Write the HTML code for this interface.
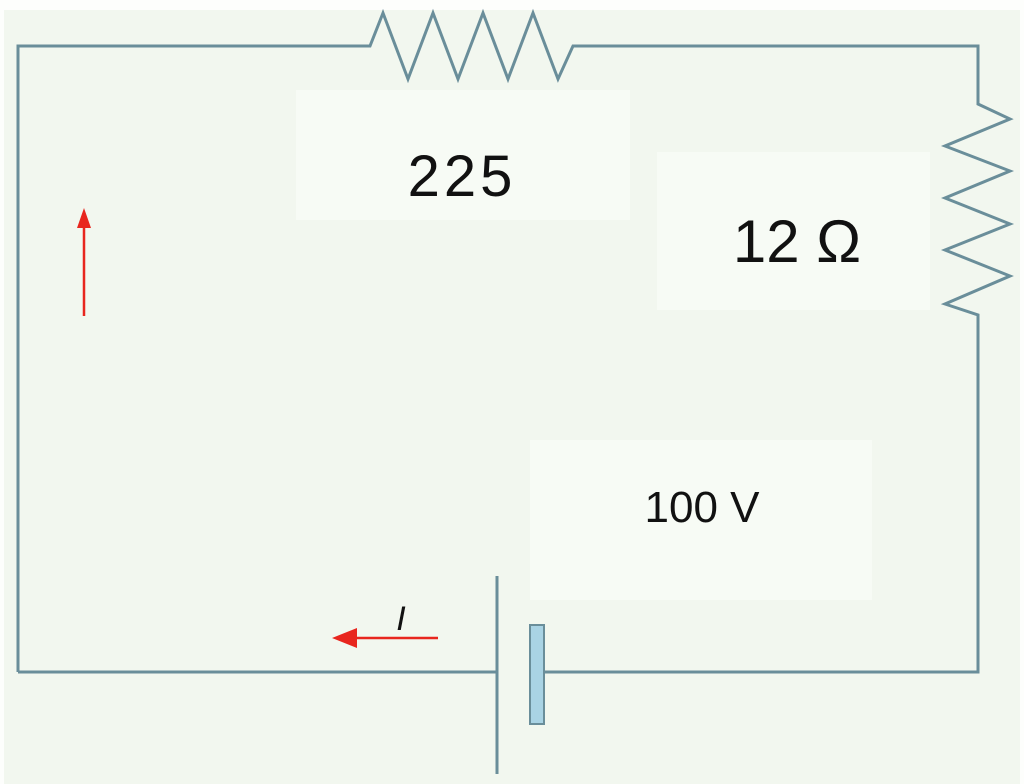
<!DOCTYPE html>
<html><head><style>
html,body{margin:0;padding:0;background:#fff;}
</style></head><body>
<svg width="1024" height="784" xmlns="http://www.w3.org/2000/svg" style="display:block">
<rect x="0" y="0" width="1024" height="784" fill="#fdfefc"/>
<rect x="4" y="10" width="1016" height="774" fill="#f2f7ef"/>
<rect x="296" y="90" width="334" height="130" fill="#f7fbf5"/>
<rect x="657" y="152" width="273" height="158" fill="#f7fbf5"/>
<rect x="530" y="440" width="342" height="160" fill="#f7fbf5"/>
<g fill="none" stroke="#6a8e9a" stroke-width="3" stroke-linejoin="miter">
<polyline points="18,672 18,46 370,46 383,13 408,79 433,13 458,79 483,13 508,79 533,13 558,79 573,46 978,46 978,104 1010,119 945,146 1010,171 945,198 1010,224 945,250 1010,276 945,304 978,315 978,672 545,672"/>
<line x1="497" y1="672" x2="18" y2="672"/>
<line x1="497" y1="576" x2="497" y2="774"/>
</g>
<rect x="530" y="625" width="14" height="99" fill="#a9d3e4" stroke="#6a8e9a" stroke-width="2"/>
<g stroke="#e8261e" stroke-width="2.5" fill="#e8261e">
<line x1="84" y1="316" x2="84" y2="228"/>
<polygon points="84,208 77,228 91,228" stroke="none"/>
<line x1="438" y1="638" x2="352" y2="638"/>
<polygon points="332,638 357,628 357,648" stroke="none"/>
</g>
<g font-family="Liberation Sans, sans-serif" fill="#111">
<text x="462" y="196" font-size="58" text-anchor="middle" letter-spacing="4">225</text>
<text x="797" y="262" font-size="60" text-anchor="middle">12 Ω</text>
<text x="702" y="522" font-size="44" text-anchor="middle">100 V</text>
<text x="401" y="630" font-size="34" text-anchor="middle" font-style="italic">I</text>
</g>
</svg>
</body></html>
